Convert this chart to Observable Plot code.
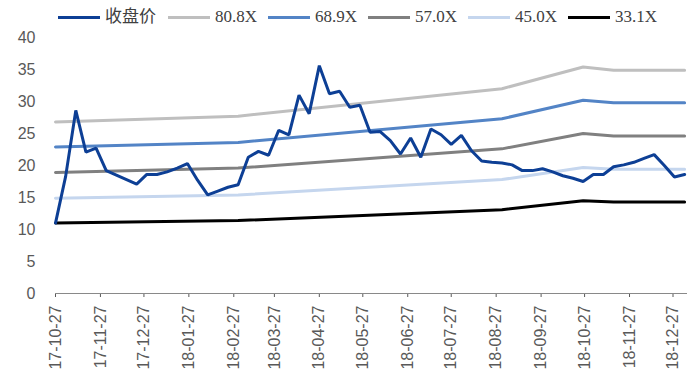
<!DOCTYPE html>
<html>
<head>
<meta charset="utf-8">
<script src="https://cdn.jsdelivr.net/npm/d3@7"></script>
<script src="https://cdn.jsdelivr.net/npm/@observablehq/plot@0.6"></script>
<style>
  body { margin: 0; background: #fff; }
  #legend { position: relative; height: 26px; width: 691px;
    font-family: "Liberation Serif", "Noto Sans CJK SC", serif; font-size: 17px; color: #404040; }
  .item { position: absolute; top: 7px; height: 20px; line-height: 20px; display: flex; align-items: center; white-space: nowrap; }
  .sw { width: 42px; height: 3px; margin-right: 5px; }
</style>
</head>
<body>
<div id="legend"></div>
<div id="chart"></div>
<script>
// Weekly closing price, first week 2017-10-27
const priceStart = "2017-10-27";
const closePrice = [11.0, 18.3, 28.6, 22.1, 22.7, 19.2, 18.5, 17.8, 17.1, 18.6, 18.6, 19.0, 19.6,
  20.3, 17.7, 15.4, 16.0, 16.6, 17.0, 21.3, 22.2, 21.6, 25.5, 24.8, 31.0, 28.1, 35.6, 31.2, 31.6,
  29.1, 29.4, 25.2, 25.3, 23.9, 21.8, 24.3, 21.3, 25.7, 24.8, 23.3, 24.7, 22.3, 20.7, 20.5, 20.4,
  20.1, 19.2, 19.2, 19.5, 19.0, 18.4, 18.0, 17.5, 18.6, 18.6, 19.8, 20.1, 20.5, 21.1, 21.7, 20.0,
  18.2, 18.6];

// PE band lines (price at a fixed multiple), values at each earnings update
const bandDates = ["2017-10-27", "2018-03-02", "2018-08-31", "2018-10-26", "2018-11-16", "2019-01-04"];
const pe808 = [26.8, 27.7, 32.0, 35.4, 34.9, 34.9];
const pe689 = [22.9, 23.6, 27.3, 30.2, 29.8, 29.8];
const pe570 = [18.9, 19.6, 22.6, 25.0, 24.6, 24.6];
const pe450 = [14.9, 15.4, 17.8, 19.7, 19.4, 19.4];
const pe331 = [11.0, 11.4, 13.1, 14.5, 14.3, 14.3];

const seriesNames = ["收盘价", "80.8X", "68.9X", "57.0X", "45.0X", "33.1X"];
const seriesColors = ["#0D3F95", "#BFBFBF", "#5384C6", "#808080", "#C5D6EE", "#000000"];

const xTickLabels = ["2017-10-27", "2017-11-27", "2017-12-27", "2018-01-27", "2018-02-27",
  "2018-03-27", "2018-04-27", "2018-05-27", "2018-06-27", "2018-07-27", "2018-08-27",
  "2018-09-27", "2018-10-27", "2018-11-27", "2018-12-27"];
const yTicks = [0, 5, 10, 15, 20, 25, 30, 35, 40];

const parse = d3.utcParse("%Y-%m-%d");
const t0 = parse(priceStart);
const priceRows = closePrice.map((v, i) => ({date: d3.utcDay.offset(t0, 7 * i), value: v}));
const bands = [pe808, pe689, pe570, pe450, pe331].map((vals, j) => ({
  name: seriesNames[j + 1], color: seriesColors[j + 1],
  rows: vals.map((v, i) => ({date: parse(bandDates[i]), value: v}))
}));

// legend
const legend = document.getElementById("legend");
const legendLeft = [58, 168, 268, 368, 468, 568];
seriesNames.forEach((name, i) => {
  const it = document.createElement("div");
  it.className = "item";
  it.style.left = legendLeft[i] + "px";
  const sw = document.createElement("span");
  sw.className = "sw";
  sw.style.background = seriesColors[i];
  const tx = document.createElement("span");
  tx.textContent = name;
  it.append(sw, tx);
  legend.append(it);
});

const chart = Plot.plot({
  width: 691,
  height: 346,
  marginLeft: 55,
  marginRight: 4,
  marginTop: 11,
  marginBottom: 79,
  style: {fontFamily: "'Liberation Sans', Arial, sans-serif", fontSize: "16px", color: "#595959", background: "#fff"},
  x: {
    type: "utc",
    domain: [parse("2017-10-27"), parse("2019-01-06")],
    ticks: xTickLabels.map(parse),
    tickFormat: d3.utcFormat("%y-%m-%d"),
    tickRotate: -90,
    tickSize: 4,
    tickPadding: 8,
    label: null
  },
  y: {domain: [0, 40], ticks: yTicks, tickSize: 0, tickPadding: 20, label: null},
  marks: [
    Plot.ruleY([0], {stroke: "#898989", strokeWidth: 1}),
    ...bands.map(b => Plot.line(b.rows, {x: "date", y: "value", stroke: b.color, strokeWidth: 3})),
    Plot.line(priceRows, {x: "date", y: "value", stroke: seriesColors[0], strokeWidth: 3, strokeLinejoin: "miter"})
  ]
});
document.getElementById("chart").append(chart);
</script>
</body>
</html>
